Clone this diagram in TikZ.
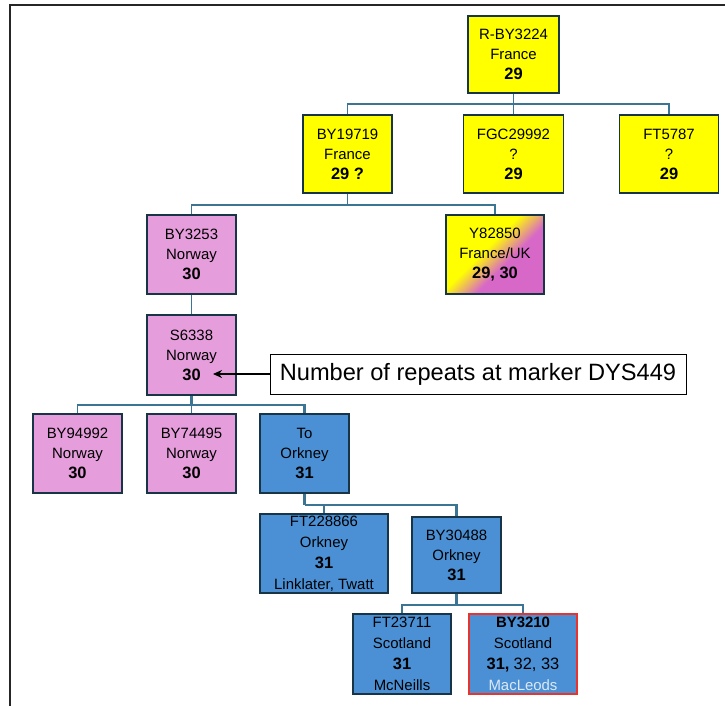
\documentclass[tikz,border=0pt]{standalone}
\usepackage{fontspec}
\setmainfont{Liberation Sans}
\usetikzlibrary{arrows.meta}

\definecolor{nodeyellow}{HTML}{FFFF00}
\definecolor{nodepink}{HTML}{E69DDC}
\definecolor{nodeblue}{HTML}{4B90D5}
\definecolor{edgenavy}{HTML}{183547}
\definecolor{linkteal}{HTML}{3B7593}
\definecolor{mixpink}{HTML}{D768C8}
\definecolor{paletext}{HTML}{DCE8F4}
\definecolor{hired}{HTML}{E8342C}

% yellow corner fading into orchid along the diagonal
\pgfdeclarehorizontalshading{yellowtopink}{100bp}{color(0bp)=(nodeyellow); color(44bp)=(nodeyellow); color(58bp)=(mixpink); color(100bp)=(mixpink)}

\newcommand\repn[1]{{\fontsize{16.5}{20}\selectfont\bfseries #1}}
\newcommand\plainn[1]{{\fontsize{16.5}{20}\selectfont #1}}

\begin{document}
\begin{tikzpicture}[x=1bp, y=-1bp,
  hap/.style={rectangle, draw=edgenavy, line width=1.8bp, inner sep=0pt,
    align=center, font=\fontsize{15}{20}\selectfont, minimum width=89bp, minimum height=79bp},
  yel/.style={hap, fill=nodeyellow},
  pnk/.style={hap, fill=nodepink},
  blu/.style={hap, fill=nodeblue},
  conn/.style={draw=linkteal, line width=1.6bp},
  trunk/.style={draw=linkteal, line width=2.6bp},
  frame/.style={draw=black!85, line width=2.5bp}
]
\useasboundingbox (0,0) rectangle (725,706);

% outer frame (top and left edges)
\draw[frame] (725,5) -- (10,5) -- (10,706);

% haplogroup boxes
\node[yel, minimum width=91bp, minimum height=77bp] (root) at (513.5,54.5)
  {R-BY3224\\France\\\repn{29}};
\node[yel, minimum height=78bp] (b19719) at (347.5,154)
  {BY19719\\France\\\repn{29 ?}};
\node[yel, minimum width=100bp, minimum height=78bp] (fgc) at (513.5,154)
  {FGC29992\\?\\\repn{29}};
\node[yel, minimum width=99bp, minimum height=78bp] (ft5787) at (669,154)
  {FT5787\\?\\\repn{29}};

\node[pnk] (b3253) at (191.5,254.5) {BY3253\\Norway\\\repn{30}};
\node[hap, shading=yellowtopink, shade, shading angle=-45, minimum width=98bp] (y82850) at (495,254.5)
  {Y82850\\France/UK\\\repn{29, 30}};

\node[pnk, minimum height=80bp] (s6338) at (191.5,355) {S6338\\Norway\\\repn{30}};

\node[pnk] (b94992) at (77.5,453.5) {BY94992\\Norway\\\repn{30}};
\node[pnk] (b74495) at (191.5,453.5) {BY74495\\Norway\\\repn{30}};
\node[blu] (orkney) at (304.5,453.5) {To\\Orkney\\\repn{31}};

\node[blu, minimum width=128bp, font=\fontsize{15}{21}\selectfont] (ft228866) at (324,553.5)
  {FT228866\\Orkney\\\repn{31}\\Linklater, Twatt};
\node[blu, minimum height=76bp] (b30488) at (456.5,555)
  {BY30488\\Orkney\\\repn{31}};

\node[blu, minimum width=98bp, minimum height=80bp, font=\fontsize{15}{21}\selectfont] (ft23711) at (402,654)
  {FT23711\\Scotland\\\repn{31}\\McNeills};
\node[blu, draw=hired, line width=1.5bp, minimum width=108bp, minimum height=80bp, font=\fontsize{15}{21}\selectfont] (b3210) at (523,654)
  {\textbf{BY3210}\\Scotland\\\repn{31,} \plainn{32, 33}\\\textcolor{paletext}{MacLeods}};

% explanatory label with pointer
\node[draw=black, line width=0.8bp, fill=white, inner sep=0pt, minimum width=416bp,
  minimum height=40bp, font=\fontsize{23.7}{26}\selectfont] (note) at (478,374)
  {Number of repeats at marker DYS449};
\coordinate (ptr) at (213,374);
\draw[-{Stealth[length=9bp,width=8bp]}, line width=2.4bp] (note.west) -- (ptr);

% tree connectors
\draw[conn] (root.south) -- ++(0,10) coordinate (j1);
\draw[conn] (b19719.north) |- (j1) -| (ft5787.north);
\draw[conn] (j1) -- (fgc.north);

\draw[conn] (b19719.south) -- ++(0,11) coordinate (j2);
\draw[conn] (b3253.north) |- (j2) -| (y82850.north);

\draw[conn] (b3253.south) -- (s6338.north);

\draw[trunk] (s6338.south) -- ++(0,9) coordinate (j4);
\draw[conn] (j4) -| (b94992.north);
\draw[conn] (j4) -- (b74495.north);
\draw[trunk] (j4) -| (orkney.north);

\draw[trunk] (orkney.south) -- ++(0,11) coordinate (j5);
\draw[conn] (j5) -| (ft228866.north);
\draw[trunk] (j5) -| (b30488.north);

\draw[trunk] (b30488.south) -- ++(0,11) coordinate (j6);
\draw[conn] (j6) -| (ft23711.north);
\draw[trunk] (j6) -| (b3210.north);
\end{tikzpicture}
\end{document}
